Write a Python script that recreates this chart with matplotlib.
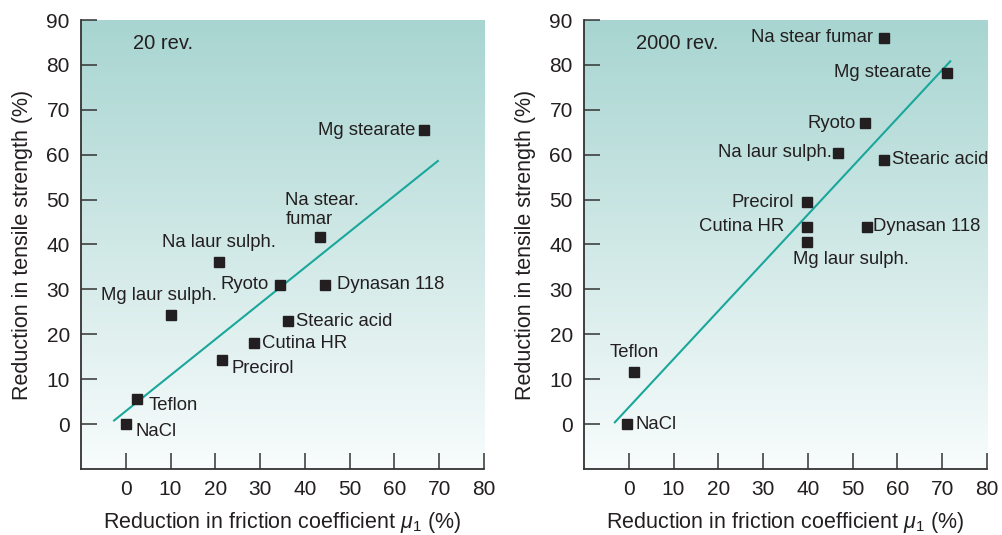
import numpy as np
import matplotlib.pyplot as plt
from matplotlib.colors import LinearSegmentedColormap

plt.rcParams['font.family'] = ['Liberation Sans', 'DejaVu Sans']
plt.rcParams['mathtext.fontset'] = 'custom'
plt.rcParams['mathtext.rm'] = 'Liberation Sans'
plt.rcParams['mathtext.it'] = 'Liberation Sans:italic'

# 20 rev. panel
names_20 = ["Mg stearate", "Na stear.\nfumar", "Na laur sulph.", "Ryoto", "Dynasan 118",
            "Mg laur sulph.", "Stearic acid", "Cutina HR", "Precirol", "Teflon", "NaCl"]
x_20 = [66.5, 43.4, 20.8, 34.4, 44.6, 10.1, 36.2, 28.6, 21.5, 2.6, 0.0]
y_20 = [65.4, 41.6, 36.1, 31.0, 31.0, 24.3, 22.9, 18.0, 14.3, 5.6, 0.0]
fit_x_20 = [-2.6, 69.7]
fit_y_20 = [0.8, 58.6]

# 2000 rev. panel
names_2000 = ["Na stear fumar", "Mg stearate", "Ryoto", "Na laur sulph.", "Stearic acid",
              "Precirol", "Cutina HR", "Dynasan 118", "Mg laur sulph.", "Teflon", "NaCl"]
x_2000 = [57.0, 71.1, 52.8, 46.7, 57.0, 39.7, 39.7, 53.1, 39.7, 1.2, -0.4]
y_2000 = [86.1, 78.2, 67.0, 60.4, 58.9, 49.4, 43.9, 43.9, 40.5, 11.5, 0.0]
fit_x_2000 = [-3.1, 71.8]
fit_y_2000 = [0.4, 80.8]

# label placement: (dx, dy in points, ha, va)
place_20 = {
    "Mg stearate": (-6, 0, "right", "center"),
    "Na stear.\nfumar": (-25, 7, "left", "bottom"),
    "Na laur sulph.": (0, 8, "center", "bottom"),
    "Ryoto": (-8, 0, "right", "center"),
    "Dynasan 118": (8, 0, "left", "center"),
    "Mg laur sulph.": (-9, 8, "center", "bottom"),
    "Stearic acid": (6, 0, "left", "center"),
    "Cutina HR": (6, 0, "left", "center"),
    "Precirol": (7, -6, "left", "center"),
    "Teflon": (8, -5, "left", "center"),
    "NaCl": (7, -5, "left", "center"),
}
place_2000 = {
    "Na stear fumar": (-8, 0, "right", "center"),
    "Mg stearate": (-11, 0, "right", "center"),
    "Ryoto": (-7, 0, "right", "center"),
    "Na laur sulph.": (-4, 0, "right", "center"),
    "Stearic acid": (6, 0, "left", "center"),
    "Precirol": (-9, 0, "right", "center"),
    "Cutina HR": (-16, 0, "right", "center"),
    "Dynasan 118": (5, 0, "left", "center"),
    "Mg laur sulph.": (32, -6, "center", "top"),
    "Teflon": (0, 8, "center", "bottom"),
    "NaCl": (6, 0, "left", "center"),
}

bg = LinearSegmentedColormap.from_list("bg", ["#f8fcfc", "#a8d5d1"])
ink = "#231f20"
teal = "#1aa79b"


def draw_panel(ax, xs, ys, names, fx, fy, place, tag):
    grad = np.linspace(0, 1, 256).reshape(-1, 1)
    ax.imshow(grad, cmap=bg, origin="lower", aspect="auto",
              extent=[-10, 80, -10, 90], zorder=0)
    ax.plot(fx, fy, color=teal, lw=1.5, zorder=2)
    ax.plot(xs, ys, "s", color=ink, ms=7, zorder=3)
    for x, y, n in zip(xs, ys, names):
        dx, dy, ha, va = place[n]
        ax.annotate(n, (x, y), xytext=(dx, dy), textcoords="offset points",
                    ha=ha, va=va, fontsize=13.3, color=ink, linespacing=1.15,
                    annotation_clip=False)
    ax.text(0.13, 0.947, tag, transform=ax.transAxes, fontsize=14.5,
            color=ink, va="center")
    ax.set_xlim(-10, 80)
    ax.set_ylim(-10, 90)
    ax.set_xticks(range(0, 81, 10))
    ax.set_yticks(range(0, 91, 10))
    ax.spines["top"].set_visible(False)
    ax.spines["right"].set_visible(False)
    for s in ("left", "bottom"):
        ax.spines[s].set_color("#333333")
        ax.spines[s].set_linewidth(1.3)
    ax.tick_params(direction="in", length=11.5, width=1.1, color="#333333",
                   labelsize=15, labelcolor=ink, pad=8)
    ax.set_xlabel(r"Reduction in friction coefficient $\mu_1$ (%)",
                  fontsize=15.5, color=ink, labelpad=8)
    ax.set_ylabel("Reduction in tensile strength (%)", fontsize=15.5,
                  color=ink, labelpad=10)


fig = plt.figure(figsize=(10.02, 5.35), dpi=100)
ax1 = fig.add_axes([0.0808, 0.1234, 0.4022, 0.8392])
ax2 = fig.add_axes([0.5828, 0.1234, 0.4022, 0.8392])
draw_panel(ax1, x_20, y_20, names_20, fit_x_20, fit_y_20, place_20, "20 rev.")
draw_panel(ax2, x_2000, y_2000, names_2000, fit_x_2000, fit_y_2000, place_2000, "2000 rev.")

fig.savefig("out.png", dpi=100)
